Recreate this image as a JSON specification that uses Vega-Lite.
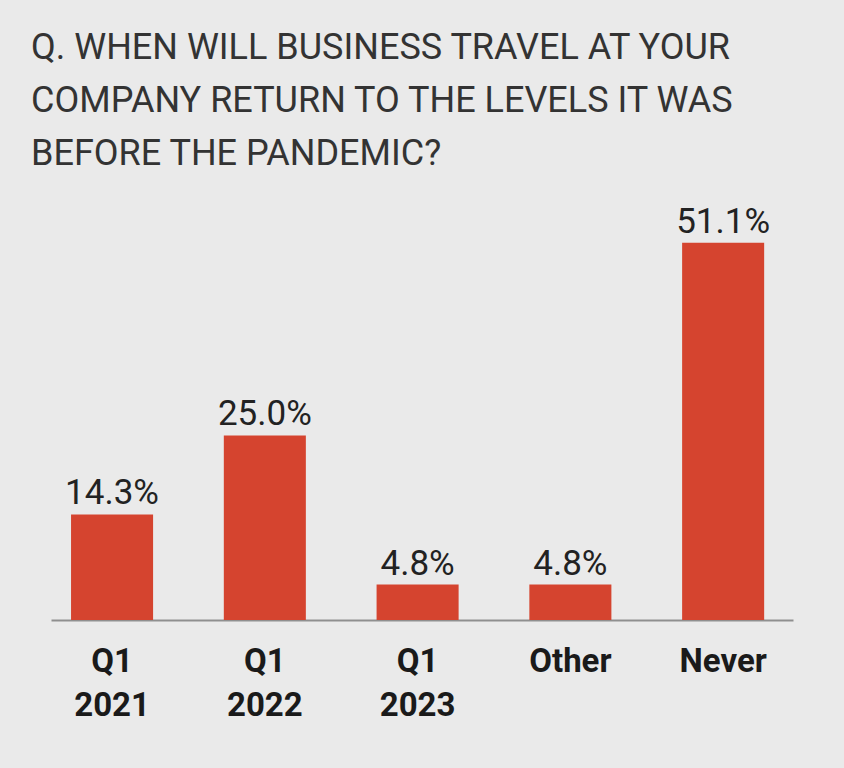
{
  "$schema": "https://vega.github.io/schema/vega-lite/v6.json",
  "width": 742,
  "height": 406,
  "autosize": {"type": "none"},
  "padding": {"left": 51, "top": 214, "right": 51, "bottom": 148},
  "background": "#eaeaea",
  "title": {
    "text": ["Q. WHEN WILL BUSINESS TRAVEL AT YOUR", "COMPANY RETURN TO THE LEVELS IT WAS", "BEFORE THE PANDEMIC?"],
    "anchor": "start",
    "frame": "group",
    "font": "Roboto",
    "fontSize": 36,
    "fontWeight": "normal",
    "color": "#333333",
    "lineHeight": 53,
    "baseline": "alphabetic",
    "dx": -20,
    "dy": 44,
    "offset": 48
  },
  "config": {"view": {"stroke": null}},
  "data": {
    "values": [
      {"period": "Q1 2021", "value": 14.3},
      {"period": "Q1 2022", "value": 25.0},
      {"period": "Q1 2023", "value": 4.8},
      {"period": "Other", "value": 4.8},
      {"period": "Never", "value": 51.1}
    ]
  },
  "encoding": {
    "x": {
      "field": "period",
      "type": "nominal",
      "sort": null,
      "scale": {"paddingInner": 0.463, "paddingOuter": 0.16, "align": 0.41},
      "axis": {
        "title": null,
        "ticks": false,
        "domainColor": "#8f8f8f",
        "domainWidth": 2,
        "labelAngle": 0,
        "labelFont": "Roboto",
        "labelFontWeight": "bold",
        "labelFontSize": 33,
        "labelColor": "#1a1a1a",
        "labelBaseline": "alphabetic",
        "labelPadding": 51,
        "labelLineHeight": 44,
        "labelExpr": "split(datum.label, ' ')"
      }
    },
    "y": {
      "field": "value",
      "type": "quantitative",
      "scale": {"domain": [0, 55]},
      "axis": null
    }
  },
  "layer": [
    {"mark": {"type": "bar", "color": "#d5442f"}},
    {
      "mark": {
        "type": "text",
        "baseline": "alphabetic",
        "dy": -10,
        "font": "Roboto",
        "fontSize": 35,
        "color": "#222222",
        "text": {"expr": "format(datum.value, '.1f') + '%'"}
      }
    }
  ]
}
